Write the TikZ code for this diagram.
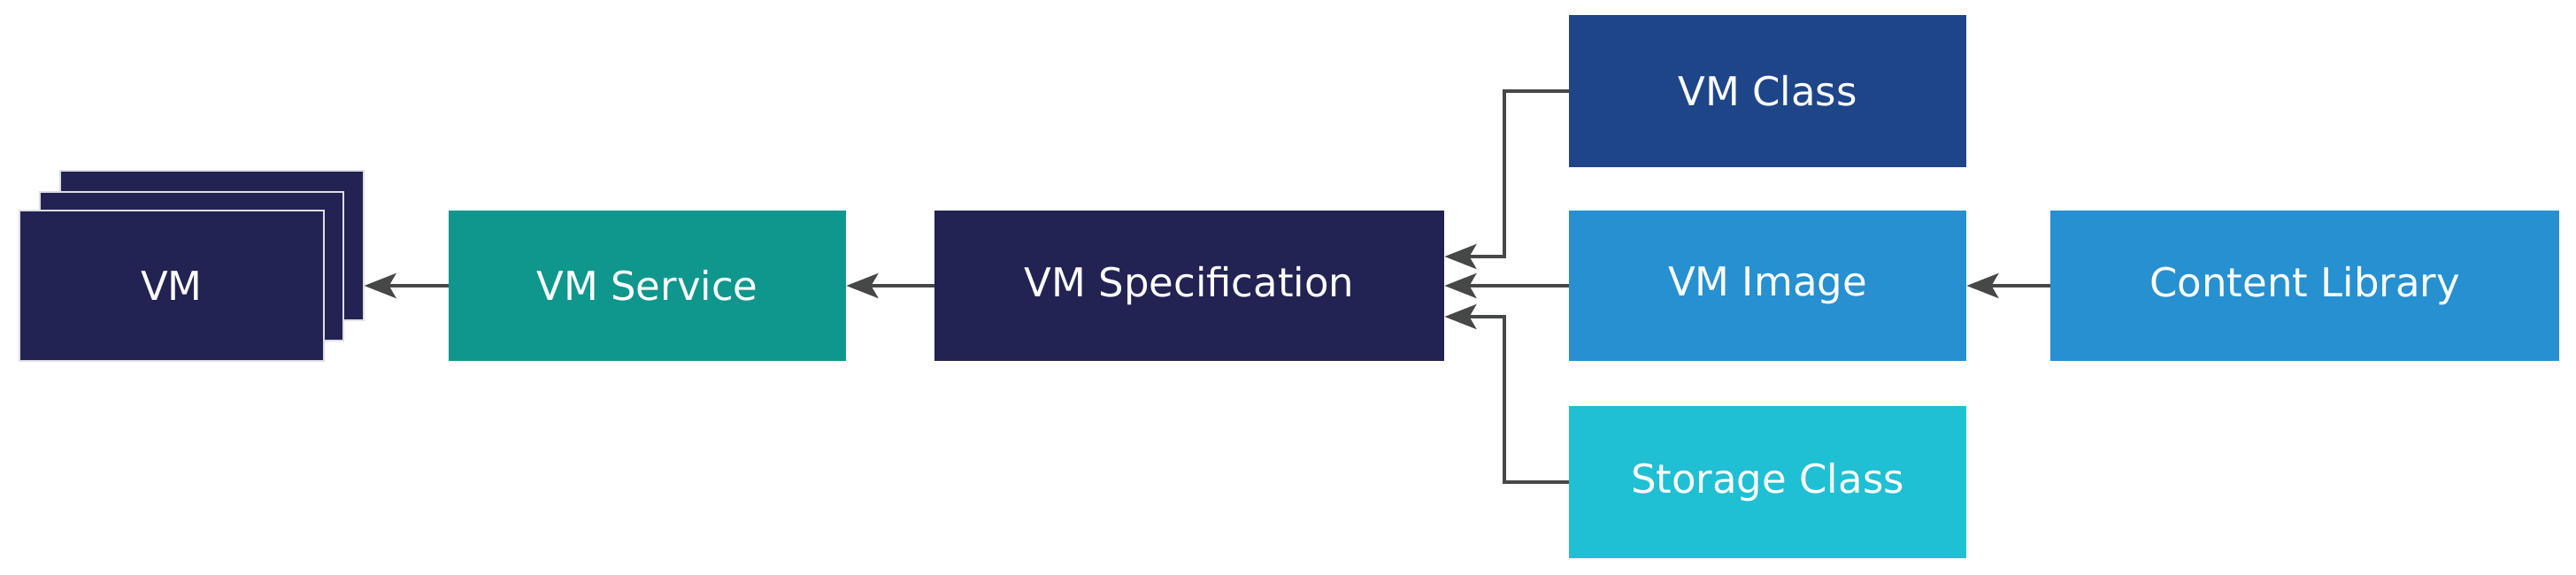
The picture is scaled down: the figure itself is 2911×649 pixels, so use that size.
\documentclass[tikz,border=0pt]{standalone}
\usepackage{fontspec}
\setmainfont{DejaVu Sans}
\usetikzlibrary{arrows.meta}
\definecolor{navy}{HTML}{222352}
\definecolor{clsblue}{HTML}{1F4589}
\definecolor{imgblue}{HTML}{2690D0}
\definecolor{stocyan}{HTML}{1FBFD4}
\definecolor{teal2}{HTML}{0F978D}
\definecolor{arrowgray}{HTML}{464848}
\tikzset{
  box/.style={rectangle, inner sep=0pt, text=white, font=\fontsize{22.5}{27}\selectfont},
  stackbox/.style={box, fill=navy, draw=white!85!navy, line width=0.6pt},
  conn/.style={draw=arrowgray, line width=2pt, -{Stealth[length=18pt,width=14pt,inset=4pt]}},
}
\begin{document}
\begin{tikzpicture}[x=0.5pt,y=-0.5pt]
\useasboundingbox (0,0) rectangle (2911,649);
\node[stackbox, minimum width=171.5pt, minimum height=84.5pt] (vm3) at (239.5,277.5) {};
\node[stackbox, minimum width=171.5pt, minimum height=84pt] (vm2) at (216.5,301) {};
\node[stackbox, minimum width=172pt, minimum height=85pt] (vm1) at (194,323) {VM};
\node[box, fill=teal2, minimum width=224.5pt, minimum height=85pt] (svc) at (731.5,323) {VM Service};
\node[box, fill=navy, minimum width=288pt, minimum height=85pt] (spec) at (1344,323) {VM Specification};
\node[box, fill=clsblue, minimum width=224.5pt, minimum height=86pt] (cls) at (1997.5,103) {VM Class};
\node[box, fill=imgblue, minimum width=224.5pt, minimum height=85pt] (img) at (1997.5,323) {VM Image};
\node[box, fill=stocyan, minimum width=224.5pt, minimum height=86pt] (sto) at (1997.5,545) {Storage Class};
\node[box, fill=imgblue, minimum width=287.5pt, minimum height=85pt] (lib) at (2604.5,323) {Content Library};
\coordinate (jx) at (1700,0);
\draw[conn] (svc.west) -- (svc.west -| vm3.east);
\draw[conn] (spec.west) -- (svc.east);
\draw[conn] (img.west) -- (spec.east);
\draw[conn] (lib.west) -- (img.east);
\draw[conn] (cls.west) -- (cls.west -| jx) -- ([yshift=16.5pt]spec.east -| jx) -- ([yshift=16.5pt]spec.east);
\draw[conn] (sto.west) -- (sto.west -| jx) -- ([yshift=-17.5pt]spec.east -| jx) -- ([yshift=-17.5pt]spec.east);
\end{tikzpicture}
\end{document}
